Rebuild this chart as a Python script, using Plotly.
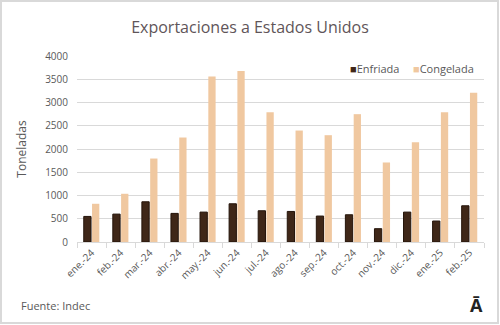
import plotly.graph_objects as go

months = ["ene.-24", "feb.-24", "mar.-24", "abr.-24", "may.-24", "jun.-24", "jul.-24",
          "ago.-24", "sep.-24", "oct.-24", "nov.-24", "dic.-24", "ene.-25", "feb.-25"]
enfriada = [550, 600, 865, 615, 643, 822, 672, 657, 558, 586, 286, 643, 451, 779]
congelada = [822, 1037, 1795, 2247, 3557, 3679, 2791, 2397, 2297, 2749, 1710, 2147, 2791, 3212]

FONT = "Open Sans"
GRAY = "#595959"
C_ENF = "#3f2718"
C_CON = "#f0c8a0"

fig = go.Figure()
fig.add_trace(go.Bar(x=months, y=enfriada, name="Enfriada", showlegend=False,
                     marker=dict(color=C_ENF, line=dict(color="#24140a", width=1))))
fig.add_trace(go.Bar(x=months, y=congelada, name="Congelada", showlegend=False,
                     marker=dict(color=C_CON, line=dict(color=C_CON, width=0))))

fig.update_layout(
    width=500, height=325,
    margin=dict(l=77, r=16, t=56, b=83),
    paper_bgcolor="white", plot_bgcolor="white",
    barmode="group", bargap=0.43, bargroupgap=0.12,
    font=dict(family=FONT, color=GRAY, size=10),
    title=dict(text="Exportaciones a Estados Unidos", x=0.5, xanchor="center",
               y=0.915, yanchor="middle", font=dict(family=FONT, size=16, color="#5f5559")),
    xaxis=dict(tickangle=-45, showline=True, linecolor="#d9d9d9", linewidth=1,
               ticks="outside", tickson="boundaries", tickcolor="#d9d9d9", ticklen=5,
               tickfont=dict(family=FONT, size=10, color=GRAY), showgrid=False),
    yaxis=dict(range=[0, 4000], dtick=500, showgrid=True, gridcolor="#d9d9d9",
               gridwidth=1, zeroline=False, showline=False, ticklabelstandoff=8,
               tickfont=dict(family=FONT, size=10, color=GRAY),
               title=dict(text="Toneladas", font=dict(family=FONT, size=12, color=GRAY),
                          standoff=15)),
    shapes=[dict(type="rect", xref="paper", yref="paper", x0=-0.1867, x1=1.0344,
                 y0=-0.4355, y1=1.2957, line=dict(color="#d9d9d9", width=2))],
    annotations=[
        dict(text=f"<span style='color:{C_ENF}'>■</span>Enfriada", xref="paper", yref="paper",
             x=0.665, y=0.935, xanchor="left", yanchor="middle", showarrow=False,
             font=dict(family=FONT, size=11, color=GRAY)),
        dict(text=f"<span style='color:{C_CON}'>■</span>Congelada", xref="paper", yref="paper",
             x=0.82, y=0.935, xanchor="left", yanchor="middle", showarrow=False,
             font=dict(family=FONT, size=11, color=GRAY)),
        dict(text="Fuente: Indec", xref="paper", yref="paper", x=-0.142, y=-0.344,
             xanchor="left", yanchor="middle", showarrow=False,
             font=dict(family=FONT, size=11, color=GRAY)),
        dict(text="<b>Ā</b>", xref="paper", yref="paper", x=0.9825, y=-0.34,
             xanchor="center", yanchor="middle", showarrow=False,
             font=dict(family=FONT, size=18, color="#222222")),
    ],
)

fig.write_html("out.html")
